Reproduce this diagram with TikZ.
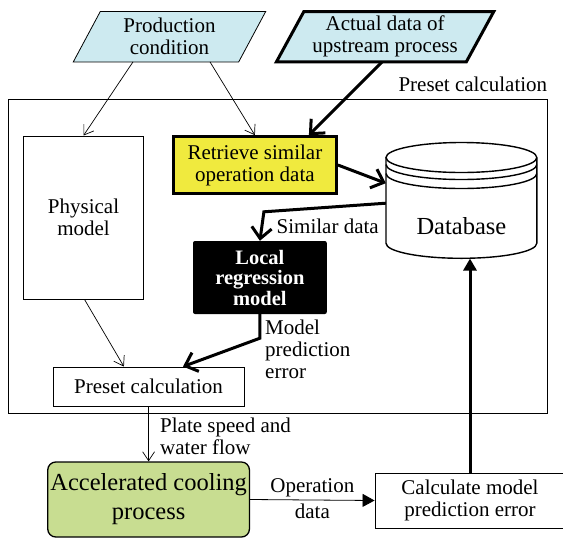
\documentclass[tikz,border=0pt]{standalone}
\usepackage{fontspec}
\setmainfont{Liberation Serif}
\usetikzlibrary{arrows.meta,backgrounds}

\definecolor{inputblue}{RGB}{205,234,240}
\definecolor{retrieveyellow}{RGB}{240,234,62}
\definecolor{coolgreen}{RGB}{200,221,145}

\newcommand{\txtsize}{\fontsize{21}{22}\selectfont}
\newcommand{\bigsize}{\fontsize{24.5}{29}\selectfont}
\newcommand{\locsize}{\fontsize{20.5}{20.5}\selectfont}

\begin{document}
\begin{tikzpicture}[
    x=1pt, y=-1pt,
    every node/.style={font=\txtsize, align=center, inner sep=0pt},
    box/.style={draw, line width=0.9pt},
    thinarrow/.style={-{Straight Barb[length=9pt,width=12pt]}, line width=0.7pt},
    thickarrow/.style={-{Straight Barb[length=11pt,width=20pt]}, line width=3pt},
    solidarrow/.style={-{Triangle[length=12pt,width=13pt]}},
    dbline/.style={line width=1.4pt}
]
\useasboundingbox (0,0) rectangle (563,539);

% inputs
\node[minimum width=192pt, minimum height=50pt] (prod) at (169.5,36.7) {Production\\condition};
\node[minimum width=217pt, minimum height=50pt] (actual) at (385.1,36.7) {Actual data of\\upstream process};

% preset calculation frame
\node[draw, line width=0.8pt, minimum width=539pt, minimum height=314pt] (frame) at (277.5,256) {};
\node[anchor=base east] (framelabel) at ([yshift=7pt]frame.north east) {Preset calculation};

\node[box, minimum width=120.3pt, minimum height=163pt] (phys) at (83.5,217.5) {Physical\\model};
\node[draw, line width=3pt, fill=retrieveyellow, minimum width=163pt, minimum height=56.6pt] (ret) at (254.9,165) {Retrieve similar\\operation data};
\node[font=\bigsize, text height=92.7pt, text depth=23.6pt, minimum width=150.8pt] (db) at (461.4,200.2) {Database};
\node[fill=black, text=white, font=\locsize\bfseries, rounded corners=2pt, minimum width=133.8pt, minimum height=73pt] (local) at (259.9,277.5) {Local\\regression\\model};
\node[box, minimum width=191pt, minimum height=39pt] (preset) at (148.5,386.5) {Preset calculation};

% plant side
\node[draw, line width=1.3pt, fill=coolgreen, rounded corners=8pt, font=\bigsize, minimum width=201.7pt, minimum height=75pt] (accel) at (148.6,499.5) {Accelerated cooling\\process};
\node[box, minimum width=190pt, minimum height=55pt] (calc) at (470,500.5) {Calculate model\\prediction error};

\begin{scope}[on background layer]
    \draw[fill=inputblue, line width=0.8pt] (prod.south west) -- ([xshift=-27pt]prod.south east) -- (prod.north east) -- ([xshift=27pt]prod.north west) -- cycle;
    \draw[fill=inputblue, line width=3pt] (actual.south west) -- ([xshift=-27.5pt]actual.south east) -- (actual.north east) -- ([xshift=27.5pt]actual.north west) -- cycle;
    % database drum
    \draw[dbline, fill=white] (386,157.5) -- (386,243.3) arc[start angle=180, end angle=0, x radius=75.4, y radius=15] -- (536.8,157.5);
    \draw[dbline] (461.4,157.5) ellipse[x radius=75.4, y radius=15];
    \foreach \dy in {7,16}
        \draw[dbline] (386,157.5+\dy) arc[start angle=180, end angle=0, x radius=75.4, y radius=15];
\end{scope}

% connectors
\draw[thinarrow] ([xshift=-36.5pt]prod.south) -- (phys.north);
\draw[thinarrow] ([xshift=40.5pt]prod.south) -- (ret.north);
\draw[thickarrow] ([xshift=-3pt]actual.south) -- ([xshift=54pt]ret.north);
\draw[thickarrow] (ret.east) -- ([yshift=17pt]db.west);
\draw[thickarrow] ([yshift=-3pt]db.west) -- ([xshift=4pt,yshift=29pt]local.north) -- (local.north);
\node[anchor=west] (simlabel) at (276.5,226.7) {Similar data};
\draw[thickarrow] (local.south) -- ([yshift=-24pt]local.south) -- ([xshift=34.5pt]preset.north);
\node[anchor=west, align=left] (errlabel) at (265,349.5) {Model\\prediction\\error};
\draw[thinarrow] ([xshift=1pt]phys.south) -- ([xshift=-24.6pt]preset.north);
\draw[thinarrow] (preset.south) -- (accel.north);
\node[anchor=west, align=left] (flowlabel) at (160,436) {Plate speed and\\water flow};
\draw[solidarrow, line width=0.8pt] (accel.east) -- (calc.west)
    node[midway, above=3pt] {Operation}
    node[midway, below=4pt] {data};
\draw[solidarrow, line width=3pt] (calc.north) -- (calc.north |- db.south);
\end{tikzpicture}
\end{document}
